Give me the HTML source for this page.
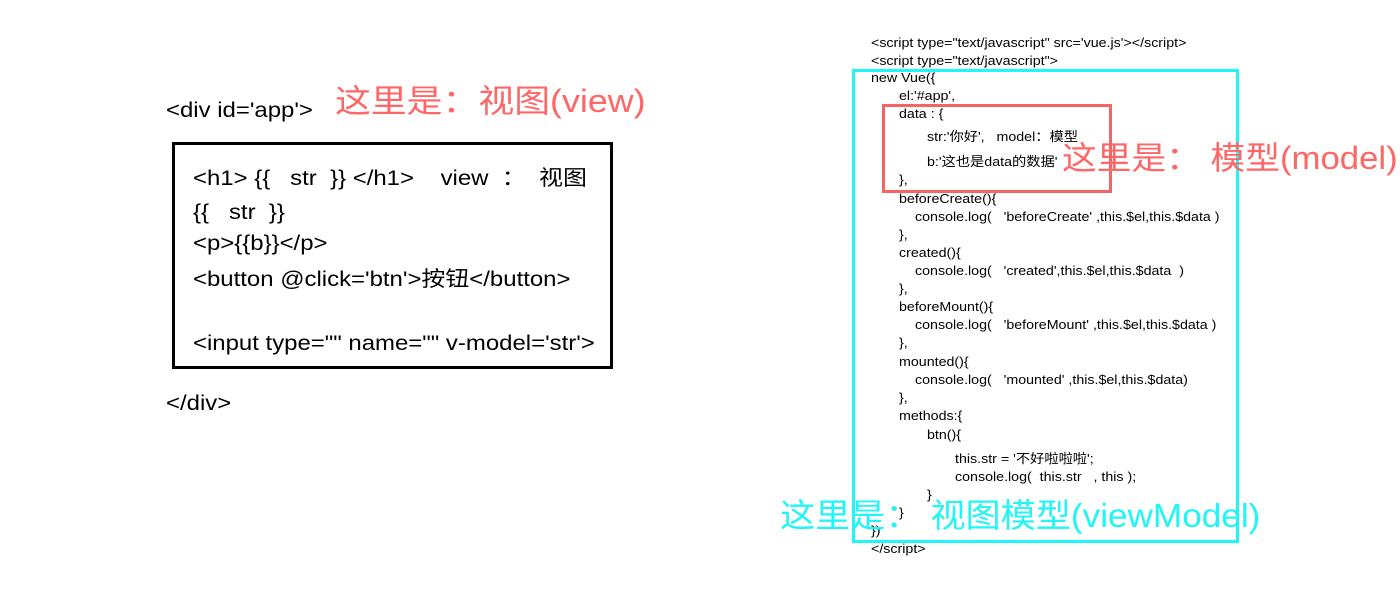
<!DOCTYPE html>
<html><head><meta charset="utf-8"><style>
body{margin:0;width:1400px;height:608px;background:#fff;position:relative;overflow:hidden;font-family:"Liberation Sans","Noto Sans CJK SC",sans-serif;color:#000}
.t{position:absolute;white-space:pre;line-height:1;transform-origin:0 50%}
.c{font-size:13px;transform:scaleX(1.095)}
.l{font-size:21px;transform:scaleX(1.14)}
.box{position:absolute;box-sizing:border-box}
</style></head><body>
<div class="box" style="left:172px;top:142px;width:441px;height:227px;border:3px solid #000"></div>
<div class="t l" style="left:166px;top:100px">&lt;div id='app'&gt;</div>
<div class="t" style="left:335px;top:85px;font-size:32px;color:#ff6666;transform:scaleX(1.12)">这里是：视图(view)</div>
<div class="t l" style="left:193px;top:168px">&lt;h1&gt; {{   str  }} &lt;/h1&gt;    view  ：  视图</div>
<div class="t l" style="left:193px;top:202px">{{   str  }}</div>
<div class="t l" style="left:193px;top:233px">&lt;p&gt;{{b}}&lt;/p&gt;</div>
<div class="t l" style="left:193px;top:269px">&lt;button @click='btn'&gt;按钮&lt;/button&gt;</div>
<div class="t l" style="left:193px;top:333px">&lt;input type="" name="" v-model='str'&gt;</div>
<div class="t l" style="left:166px;top:393px">&lt;/div&gt;</div>

<div class="box" style="left:852px;top:69px;width:387px;height:474px;border:3px solid #22f5f5"></div>
<div class="box" style="left:882px;top:104px;width:230px;height:89px;border:3px solid #f46464"></div>

<div class="t c" style="left:871px;top:36px">&lt;script type="text/javascript" src='vue.js'&gt;&lt;/script&gt;</div>
<div class="t c" style="left:871px;top:54px">&lt;script type="text/javascript"&gt;</div>
<div class="t c" style="left:871px;top:71px">new Vue({</div>
<div class="t c" style="left:899px;top:89px">el:'#app',</div>
<div class="t c" style="left:899px;top:107px">data : {</div>
<div class="t c" style="left:927px;top:130px">str:'你好',   model：模型</div>
<div class="t c" style="left:927px;top:155px">b:'这也是data的数据'</div>
<div class="t c" style="left:899px;top:173px">},</div>
<div class="t c" style="left:899px;top:192px">beforeCreate(){</div>
<div class="t c" style="left:915px;top:210px">console.log(   'beforeCreate' ,this.$el,this.$data )</div>
<div class="t c" style="left:899px;top:228px">},</div>
<div class="t c" style="left:899px;top:246px">created(){</div>
<div class="t c" style="left:915px;top:264px">console.log(   'created',this.$el,this.$data  )</div>
<div class="t c" style="left:899px;top:282px">},</div>
<div class="t c" style="left:899px;top:300px">beforeMount(){</div>
<div class="t c" style="left:915px;top:318px">console.log(   'beforeMount' ,this.$el,this.$data )</div>
<div class="t c" style="left:899px;top:336px">},</div>
<div class="t c" style="left:899px;top:355px">mounted(){</div>
<div class="t c" style="left:915px;top:373px">console.log(   'mounted' ,this.$el,this.$data)</div>
<div class="t c" style="left:899px;top:391px">},</div>
<div class="t c" style="left:899px;top:409px">methods:{</div>
<div class="t c" style="left:927px;top:428px">btn(){</div>
<div class="t c" style="left:955px;top:452px">this.str = '不好啦啦啦';</div>
<div class="t c" style="left:955px;top:470px">console.log(  this.str   , this );</div>
<div class="t c" style="left:927px;top:488px">}</div>
<div class="t c" style="left:899px;top:506px">}</div>
<div class="t c" style="left:871px;top:524px">})</div>
<div class="t c" style="left:871px;top:542px">&lt;/script&gt;</div>

<div class="t" style="left:1062px;top:142px;font-size:32px;color:#ff6666;transform:scaleX(1.085)">这里是： 模型(model)</div>
<div class="t" style="left:780px;top:499px;font-size:33px;color:#22f5f5;transform:scaleX(1.065)">这里是： 视图模型(viewModel)</div>
</body></html>
